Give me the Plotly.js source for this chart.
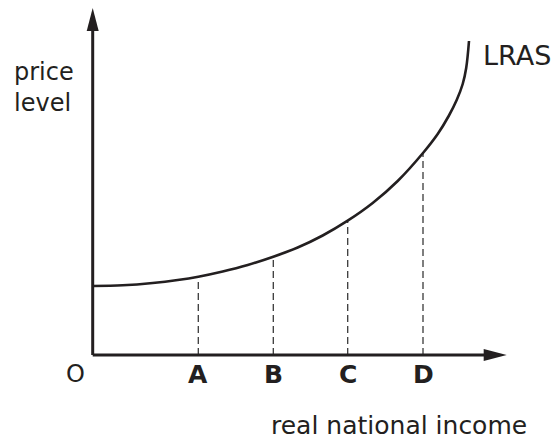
<!DOCTYPE html>
<html>
<head>
<meta charset="utf-8">
<script src="https://cdn.plot.ly/plotly-3.0.1.min.js"></script>
<style>html,body{margin:0;padding:0;background:#fff;}#chart{width:559px;height:440px;}</style>
</head>
<body>
<div id="chart"></div>
<script>
// LRAS curve: real national income (x) vs price level (y), arbitrary units
const curveX = [0, 3, 6, 8.5, 10.56, 13, 15.5, 18.06, 20.5, 23, 25.5, 28, 30.5, 33.03, 34.5, 35.6, 36.4, 37.0, 37.35, 37.63];
const curveY = [6.9, 6.97, 7.2, 7.5, 7.83, 8.35, 9.0, 9.83, 10.75, 11.95, 13.43, 15.2, 17.4, 20.2, 22.1, 23.9, 25.5, 27.1, 28.7, 31.4];
// income levels marked on the x axis and the price level at each
const incomeLabels = ['A', 'B', 'C', 'D'];
const incomeX = [10.56, 18.06, 25.5, 33.03];
const priceAtIncome = [7.83, 9.83, 13.43, 20.2];
// axis extents (arrow tips)
const xAxisEnd = 41.4;
const yAxisEnd = 34.7;

const ink = '#231f20';
const font = 'DejaVu Sans, Arial, sans-serif';

// dashed drop lines built from the arrays
const dashX = [], dashY = [];
incomeX.forEach((x, i) => { dashX.push(x, x, null); dashY.push(0, priceAtIncome[i], null); });

const traces = [
  {x: dashX, y: dashY, mode: 'lines', line: {color: '#3a3a3a', width: 1.3, dash: '7px,4px'}, hoverinfo: 'skip', showlegend: false},
  {x: [0, xAxisEnd - 1], y: [0, 0], mode: 'lines', line: {color: ink, width: 3}, hoverinfo: 'skip', showlegend: false},
  {x: [0, 0], y: [0, yAxisEnd - 1], mode: 'lines', line: {color: ink, width: 3}, hoverinfo: 'skip', showlegend: false},
  {x: curveX, y: curveY, mode: 'lines', line: {color: ink, width: 2.6, shape: 'spline', smoothing: 1}, name: 'LRAS', showlegend: false}
];

const annotations = incomeLabels.map((t, i) => ({
  x: incomeX[i], y: -1.9, xref: 'x', yref: 'y', text: '<b>' + t + '</b>', showarrow: false,
  xanchor: 'center', yanchor: 'middle', font: {family: font, size: 25, color: ink}
}));
annotations.push(
  {x: -1.77, y: -1.9, xref: 'x', yref: 'y', text: 'O', showarrow: false, xanchor: 'center', yanchor: 'middle', font: {family: font, size: 24, color: ink}},
  {x: 30.58, y: -7.0, xref: 'x', yref: 'y', text: 'real national income', showarrow: false, xanchor: 'center', yanchor: 'middle', font: {family: font, size: 25, color: ink}},
  {x: -8.1, y: 26.8, xref: 'x', yref: 'y', text: 'price<br>level', showarrow: false, xanchor: 'left', yanchor: 'middle', align: 'left', font: {family: font, size: 24, color: ink}},
  {x: 38.8, y: 30.0, xref: 'x', yref: 'y', text: 'LRAS', showarrow: false, xanchor: 'left', yanchor: 'middle', font: {family: font, size: 27, color: ink}}
);

const shapes = [
  {type: 'path', xref: 'x', yref: 'y', path: `M ${xAxisEnd} 0 L ${xAxisEnd - 2.3} 0.6 L ${xAxisEnd - 2.3} -0.6 Z`, fillcolor: ink, line: {width: 0}},
  {type: 'path', xref: 'x', yref: 'y', path: `M 0 ${yAxisEnd} L 0.6 ${yAxisEnd - 2.3} L -0.6 ${yAxisEnd - 2.3} Z`, fillcolor: ink, line: {width: 0}}
];

const layout = {
  width: 559, height: 440,
  margin: {l: 0, r: 0, t: 0, b: 0},
  paper_bgcolor: '#fff', plot_bgcolor: '#fff',
  xaxis: {range: [-9.27, 46.63], visible: false, fixedrange: true},
  yaxis: {range: [-8.5, 35.5], visible: false, fixedrange: true},
  annotations: annotations,
  shapes: shapes,
  showlegend: false
};

Plotly.newPlot('chart', traces, layout, {staticPlot: true, displayModeBar: false});
</script>
</body>
</html>
